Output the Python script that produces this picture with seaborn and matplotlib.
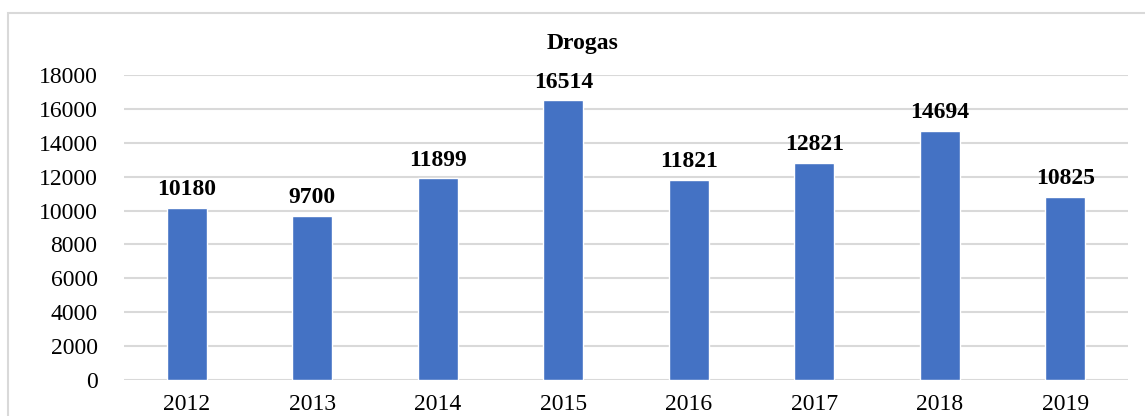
import matplotlib
matplotlib.use("Agg")
import matplotlib.pyplot as plt
import seaborn as sns
import pandas as pd
from matplotlib.patches import Rectangle

years = ["2012", "2013", "2014", "2015", "2016", "2017", "2018", "2019"]
cases = [10180, 9700, 11899, 16514, 11821, 12821, 14694, 10825]
yticks = [0, 2000, 4000, 6000, 8000, 10000, 12000, 14000, 16000, 18000]

df = pd.DataFrame({"year": years, "cases": cases})

sns.set_theme(style="white")
plt.rcParams["font.family"] = ["Liberation Serif", "DejaVu Serif"]
plt.rcParams["text.color"] = "black"
plt.rcParams["xtick.color"] = "black"
plt.rcParams["ytick.color"] = "black"

fig = plt.figure(figsize=(11.45, 4.16), dpi=100)
ax = fig.add_axes([124 / 1145, 1 - 380 / 416, (1128 - 124) / 1145, (380 - 75) / 416])

sns.barplot(data=df, x="year", y="cases", color="#4472C4", saturation=1,
            width=0.32, ax=ax, zorder=3)

ax.set_ylim(0, 18000)
ax.set_xlim(-0.5, len(years) - 0.5)
ax.set_yticks(yticks)
ax.set_yticklabels([str(t) for t in yticks])
ax.yaxis.grid(True, color="#d9d9d9", linewidth=1.5, zorder=0)
ax.set_axisbelow(True)
for s in ["top", "right", "left", "bottom"]:
    ax.spines[s].set_visible(False)
ax.tick_params(axis="y", length=0, pad=19, labelsize=17)
ax.tick_params(axis="x", length=0, pad=10, labelsize=17)
ax.set_xlabel("")
ax.set_ylabel("")

for i, v in enumerate(cases):
    ax.text(i, v + 450, str(v), ha="center", va="bottom",
            fontsize=17, fontweight="bold")

fig.text(583 / 1145, 1 - 43 / 416, "Drogas", ha="center", va="center",
         fontsize=17, fontweight="bold")

# light frame around the chart area
fig.patches.append(Rectangle((8 / 1145, -0.05), 1.1, 1.05 - 13 / 416,
                             transform=fig.transFigure, fill=False,
                             edgecolor="#d9d9d9", linewidth=1.5))

fig.savefig("out.png", dpi=100)
